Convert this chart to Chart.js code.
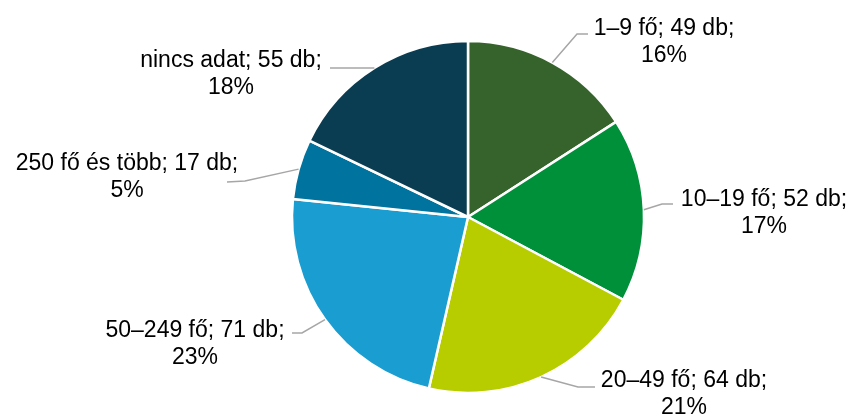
<!DOCTYPE html>
<html>
<head>
<meta charset="utf-8">
<script src="https://cdn.jsdelivr.net/npm/chart.js@4/dist/chart.umd.min.js"></script>
<style>
  html, body { margin: 0; padding: 0; background: #fff; }
  #wrap { width: 851px; height: 415px; }
</style>
</head>
<body>
<div id="wrap"><canvas id="pie" width="851" height="415"></canvas></div>
<script>
var categories = ['1–9 fő', '10–19 fő', '20–49 fő', '50–249 fő', '250 fő és több', 'nincs adat'];
var counts = [49, 52, 64, 71, 17, 55];
var percents = ['16%', '17%', '21%', '23%', '5%', '18%'];
var colors = ['#35632b', '#00903a', '#b7cd00', '#1a9dd0', '#00739e', '#0b3d52'];

// label placement: text centre x, first baseline y, leader end and elbow
var labelPos = [
  { x: 664, y: 35,  end: [588, 34],  elbow: [577, 34] },
  { x: 764, y: 206, end: [673, 204], elbow: [662, 204] },
  { x: 684, y: 387, end: [595, 387], elbow: [578, 387] },
  { x: 195, y: 337, end: [292, 333], elbow: [302, 333] },
  { x: 127, y: 170, end: [227, 182], elbow: [245, 181] },
  { x: 231, y: 67,  end: [330, 68],  elbow: [350, 68] }
];

var pieLabels = {
  id: 'pieLabels',
  afterDraw: function(chart) {
    var ctx = chart.ctx;
    var arcs = chart.getDatasetMeta(0).data;
    ctx.save();
    arcs.forEach(function(arc, i) {
      var p = arc.getProps(['x', 'y', 'startAngle', 'endAngle', 'outerRadius'], true);
      var mid = (p.startAngle + p.endAngle) / 2;
      var ex = p.x + Math.cos(mid) * p.outerRadius;
      var ey = p.y + Math.sin(mid) * p.outerRadius;
      var lp = labelPos[i];
      ctx.strokeStyle = '#a6a6a6';
      ctx.lineWidth = 1.5;
      ctx.beginPath();
      ctx.moveTo(ex, ey);
      ctx.lineTo(lp.elbow[0], lp.elbow[1]);
      ctx.lineTo(lp.end[0], lp.end[1]);
      ctx.stroke();

      ctx.fillStyle = '#000';
      ctx.font = '23px "Liberation Sans", Arial, sans-serif';
      ctx.textAlign = 'center';
      ctx.textBaseline = 'alphabetic';
      ctx.fillText(categories[i] + '; ' + counts[i] + ' db;', lp.x, lp.y);
      ctx.fillText(percents[i], lp.x, lp.y + 27);
    });
    ctx.restore();
  }
};

new Chart(document.getElementById('pie'), {
  type: 'pie',
  data: {
    labels: categories,
    datasets: [{
      data: counts,
      backgroundColor: colors,
      borderColor: '#ffffff',
      borderWidth: 2.5,
      radius: 176
    }]
  },
  options: {
    responsive: false,
    animation: false,
    layout: { padding: { left: 85, right: 0, top: 19, bottom: 0 } },
    plugins: {
      legend: { display: false },
      tooltip: { enabled: false }
    }
  },
  plugins: [pieLabels]
});
</script>
</body>
</html>
